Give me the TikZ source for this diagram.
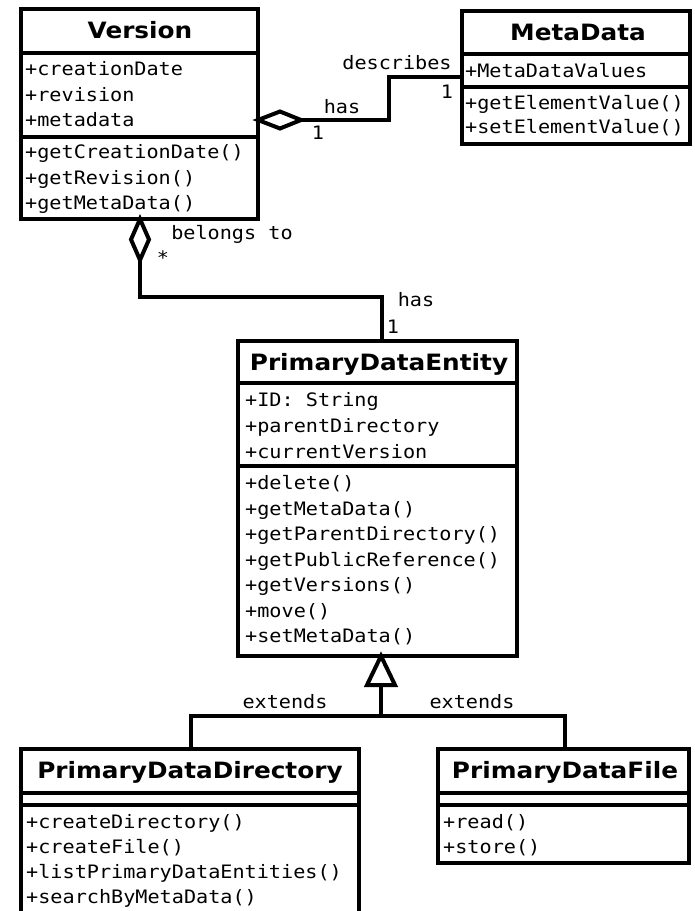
\documentclass[tikz,border=0pt]{standalone}
\usepackage{fontspec}
\newfontfamily\umlmono[FakeStretch=1.09]{DejaVu Sans Mono}
\newfontfamily\umlsans[FakeStretch=1.1]{DejaVu Sans}
\begin{document}
\begin{tikzpicture}[x=1pt,y=-1pt,
  classbox/.style={draw, line width=4.5pt, inner sep=0pt, outer sep=0pt},
  sep/.style={line width=4pt},
  wire/.style={line width=4pt},
  ctitle/.style={font=\umlsans\bfseries\fontsize{22.5}{25}\selectfont, anchor=base, inner sep=0pt},
  member/.style={font=\umlmono\fontsize{18.5}{21}\selectfont, anchor=base west, inner sep=0pt},
  tag/.style={font=\umlmono\fontsize{18.5}{21}\selectfont, anchor=base, inner sep=0pt}]
\useasboundingbox[fill=white] (0,0) rectangle (694,911);
\begin{scope}
\clip (0,0) rectangle (694,911);

% ---------- Version ----------
\node[classbox, minimum width=237pt, minimum height=210pt] (version) at (139.5,114) {};
\draw[sep] (version.west |- 0,53) -- (version.east |- 0,53);
\draw[sep] (version.west |- 0,137) -- (version.east |- 0,137);
\node[ctitle] (vtitle) at (140,38.5) {Version};
\node[member] (va1) at (25,75) {+creationDate};
\node[member] (va2) at (25,101) {+revision};
\node[member] (va3) at (25,126) {+metadata};
\node[member] (vm1) at (25,158) {+getCreationDate()};
\node[member] (vm2) at (25,184) {+getRevision()};
\node[member] (vm3) at (25,209) {+getMetaData()};

% ---------- MetaData ----------
\node[classbox, minimum width=228pt, minimum height=133pt] (meta) at (576,77.5) {};
\draw[sep] (meta.west |- 0,54) -- (meta.east |- 0,54);
\draw[sep] (meta.west |- 0,87) -- (meta.east |- 0,87);
\node[ctitle] (mtitle) at (578,40.5) {MetaData};
\node[member] (ma1) at (465,77) {+MetaDataValues};
\node[member] (mm1) at (465,109) {+getElementValue()};
\node[member] (mm2) at (465,133) {+setElementValue()};

% ---------- PrimaryDataEntity ----------
\node[classbox, minimum width=279pt, minimum height=315pt] (pde) at (377.5,498.5) {};
\draw[sep] (pde.west |- 0,383) -- (pde.east |- 0,383);
\draw[sep] (pde.west |- 0,466) -- (pde.east |- 0,466);
\node[ctitle] (etitle) at (379,370.5) {PrimaryDataEntity};
\node[member] (ea1) at (245,406) {+ID: String};
\node[member] (ea2) at (245,432) {+parentDirectory};
\node[member] (ea3) at (245,458) {+currentVersion};
\node[member] (em1) at (245,489) {+delete()};
\node[member] (em2) at (245,515) {+getMetaData()};
\node[member] (em3) at (245,540.5) {+getParentDirectory()};
\node[member] (em4) at (245,566) {+getPublicReference()};
\node[member] (em5) at (245,591.5) {+getVersions()};
\node[member] (em6) at (245,617) {+move()};
\node[member] (em7) at (245,642) {+setMetaData()};

% ---------- PrimaryDataDirectory ----------
\node[classbox, minimum width=338pt, minimum height=181pt] (pdd) at (190,839.5) {};
\draw[sep] (pdd.west |- 0,793) -- (pdd.east |- 0,793);
\draw[sep] (pdd.west |- 0,805) -- (pdd.east |- 0,805);
\node[ctitle] (dtitle) at (190,778.5) {PrimaryDataDirectory};
\node[member] (dm1) at (26,828) {+createDirectory()};
\node[member] (dm2) at (26,853.5) {+createFile()};
\node[member] (dm3) at (26,878) {+listPrimaryDataEntities()};
\node[member] (dm4) at (26,903) {+searchByMetaData()};

% ---------- PrimaryDataFile ----------
\node[classbox, minimum width=251pt, minimum height=114pt] (pdf) at (563.5,806) {};
\draw[sep] (pdf.west |- 0,793) -- (pdf.east |- 0,793);
\draw[sep] (pdf.west |- 0,805) -- (pdf.east |- 0,805);
\node[ctitle] (ftitle) at (565,778.5) {PrimaryDataFile};
\node[member] (fm1) at (443,828) {+read()};
\node[member] (fm2) at (443,853) {+store()};

% ---------- Version <>-- MetaData ----------
\coordinate (d1) at (version.east |- 0,120);
\coordinate (d1tip) at (301,120);
\draw[wire, fill=white] (d1) -- (280,111.5) -- (d1tip) -- (280,128.5) -- cycle;
\draw[wire] (d1tip) -- (389,120) |- (meta.west |- 0,77);
\node[tag] (lhas1) at (342,113.5) {has};
\node[tag] (lone1) at (318,139.5) {1};
\node[tag] (ldesc) at (397,69) {describes};
\node[tag] (lone2) at (447,98) {1};

% ---------- Version <>-- PrimaryDataEntity ----------
\coordinate (d2) at (version.south -| 140,0);
\coordinate (d2tip) at (140,260);
\draw[wire, fill=white] (d2) -- (149,239.5) -- (d2tip) -- (131,239.5) -- cycle;
\draw[wire] (d2tip) -- (140,297) -| (pde.north -| 382,0);
\node[tag] (lbel) at (232,239) {belongs to};
\node[tag] (lstar) at (163,264.5) {*};
\node[tag] (lhas2) at (416,306) {has};
\node[tag] (lone3) at (393,333) {1};

% ---------- generalisation ----------
\coordinate (apex) at (pde.south -| 381,0);
\coordinate (tbase) at (381,685);
\coordinate (fork) at (381,716);
\draw[wire, fill=white] (apex) -- (395,685) -- (367,685) -- cycle;
\draw[wire] (tbase) -- (fork);
\draw[wire] (fork) -| (pdd.north -| 191,0);
\draw[wire] (fork) -| (pdf.north -| 565,0);
\node[tag] (lext1) at (285,708) {extends};
\node[tag] (lext2) at (472,708) {extends};
\end{scope}
\end{tikzpicture}
\end{document}
